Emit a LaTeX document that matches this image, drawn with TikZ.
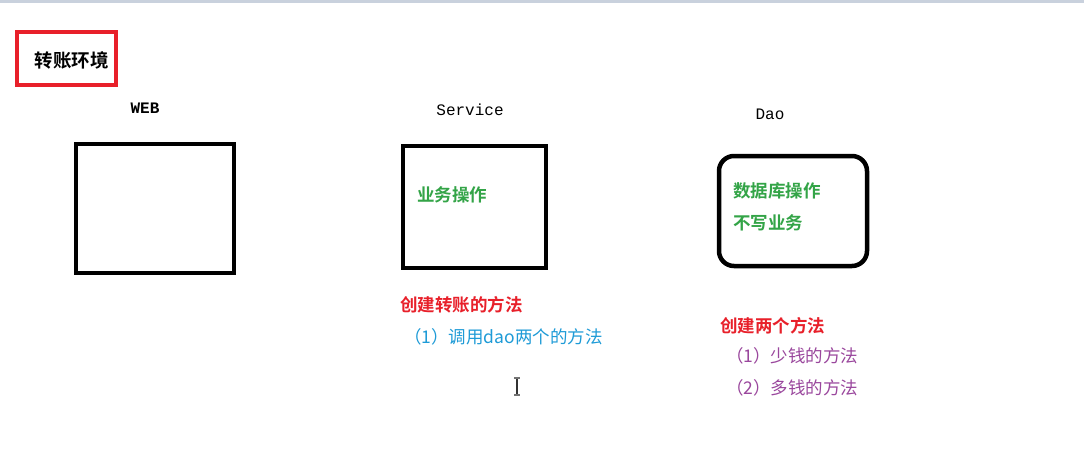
\documentclass[tikz,border=0pt]{standalone}
\usepackage{fontspec}
\newfontfamily\cjk{Noto Sans CJK SC}
\newfontfamily\cjkb{Noto Sans CJK SC Bold}
\newfontfamily\monof{Liberation Mono}
\definecolor{boxred}{HTML}{E8202A}
\definecolor{txtred}{HTML}{E8202A}
\definecolor{txtgreen}{HTML}{33A447}
\definecolor{txtblue}{HTML}{1E9BD7}
\definecolor{txtpurple}{HTML}{9A479D}
\definecolor{topbar}{HTML}{C9D1DD}
\begin{document}
\begin{tikzpicture}[x=1pt,y=-1pt,
  layer/.style={font=\monof\fontsize{16}{17}\selectfont,anchor=center,inner sep=0},
  cjktext/.style={font=\cjk\fontsize{17.5}{18}\selectfont,anchor=west,inner sep=0},
  cjkbold/.style={font=\cjkb\fontsize{17.5}{18}\selectfont,anchor=west,inner sep=0},
  tierbox/.style={draw=black,line width=4.5pt}]
\useasboundingbox (0,0) rectangle (1084,456);
\fill[white] (0,0) rectangle (1084,456);
\fill[topbar] (0,0) rectangle (1084,3);
% title
\node[draw=boxred,line width=4pt,minimum width=99pt,minimum height=53pt,inner sep=0] (titlebox) at (66.5,58.5) {};
\node[font=\cjkb\fontsize{18.5}{19}\selectfont,inner sep=0] (title) at (71.5,60) {转账环境};
% labels
\node[layer,font=\monof\bfseries\fontsize{16}{17}\selectfont] (weblbl) at (145,108) {WEB};
\node[layer] (svclbl) at (470,110) {Service};
\node[layer] (daolbl) at (770,114) {Dao};
% boxes
\node[tierbox,minimum width=158pt,minimum height=129pt,inner sep=0] (web) at (155,208.5) {};
\node[tierbox,minimum width=143pt,minimum height=122pt,inner sep=0] (svc) at (474.5,207) {};
\node[tierbox,rounded corners=15pt,minimum width=148pt,minimum height=110pt,inner sep=0] (dao) at (793,211) {};
% texts in boxes
\node[cjkbold,text=txtgreen] (svcop) at (417,195) {业务操作};
\node[cjkbold,text=txtgreen] (daoop1) at (733,191) {数据库操作};
\node[cjkbold,text=txtgreen] (daoop2) at (733,223) {不写业务};
% service notes
\node[cjkbold,text=txtred] (svcn1) at (400,305) {创建转账的方法};
\node[cjktext,text=txtblue] (svcn2) at (404,337) {（1）调用dao两个的方法};
% dao notes
\node[cjkbold,text=txtred] (daon1) at (720,326) {创建两个方法};
\node[cjktext,text=txtpurple] (daon2) at (726,356) {（1）少钱的方法};
\node[cjktext,text=txtpurple] (daon3) at (726,388) {（2）多钱的方法};
% text cursor
\draw[line width=1.2pt,black!80] (517,378) -- (517,395);
\draw[line width=1.2pt,black!55] (514,378) -- (520,378) (514,395) -- (520,395);
\end{tikzpicture}
\end{document}
